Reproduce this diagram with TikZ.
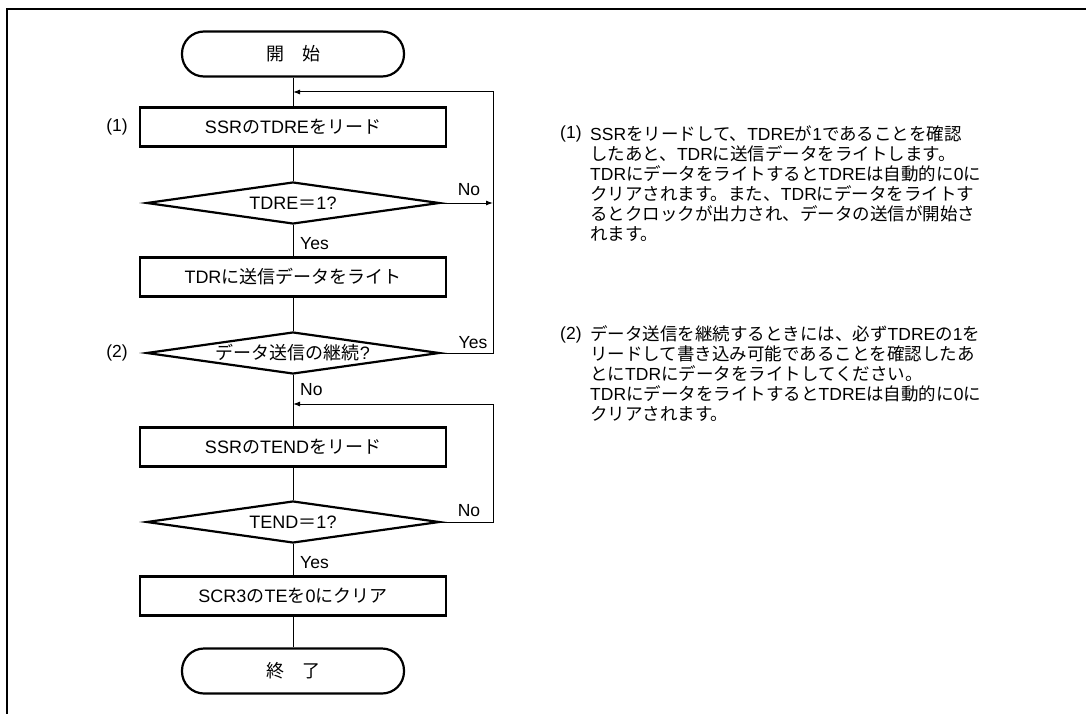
\documentclass[tikz,border=0pt]{standalone}
\usepackage{fontspec}
\setmainfont{Liberation Sans}
\newfontfamily\jpfont{Noto Sans CJK JP}
% kana, kanji and full-width forms go to the Japanese face
\newXeTeXintercharclass\jpcls
\newcount\jpc
\def\setjprange#1#2{\jpc=#1 \loop\XeTeXcharclass\jpc=\jpcls \ifnum\jpc<#2 \advance\jpc by 1 \repeat}
\setjprange{"3000}{"30FF}
\setjprange{"4E00}{"9FFF}
\setjprange{"FF01}{"FF60}
\XeTeXinterchartoks 0 \jpcls = {\jpfont}
\XeTeXinterchartoks 4095 \jpcls = {\jpfont}
\XeTeXinterchartoks \jpcls 0 = {\rmfamily}
\XeTeXinterchartoks \jpcls 4095 = {\rmfamily}
\XeTeXinterchartokenstate=1
\usetikzlibrary{shapes.geometric,arrows.meta}

\tikzset{
  term/.style={draw, line width=2.2pt, rounded corners=22pt, minimum width=222pt, minimum height=45pt},
  proc/.style={draw, line width=2.2pt, minimum width=306pt, minimum height=39pt, inner sep=0pt},
  cond/.style={draw, diamond, aspect=7, line width=2.2pt, minimum width=293pt, minimum height=42pt, inner sep=0pt},
  link/.style={line width=1pt},
  back/.style={line width=1pt, -{Latex[length=7pt, width=5pt]}},
  tag/.style={inner sep=0pt, font=\fontsize{17.5}{20}\selectfont},
  note/.style={inner sep=0pt, align=left, font=\fontsize{17.5}{20}\selectfont},
}

\begin{document}
\begin{tikzpicture}[x=1pt,y=-1pt,font=\fontsize{18}{22}\selectfont]
\useasboundingbox (0,0) rectangle (1086,714);
\draw[line width=2.5pt] (7,714) -- (7,9) -- (1086,9);

\node[term] (start) at (293,54) {開　始};
\node[proc] (rdTdre) at (293,127) {SSRのTDREをリード};
\node[cond] (dTdre) at (293,203) {TDRE＝1?};
\node[proc] (wrTdr) at (293,277) {TDRに送信データをライト};
\node[cond] (dCont) at (293,353) {データ送信の継続?};
\node[proc] (rdTend) at (293,447) {SSRのTENDをリード};
\node[cond] (dTend) at (293,522) {TEND＝1?};
\node[proc] (clrTe) at (293,596) {SCR3のTEを0にクリア};
\node[term] (stop) at (293,671) {終　了};

\coordinate (topA) at (293,92);
\coordinate (topB) at (293,404);
\coordinate (railA) at (493,92);
\coordinate (railB) at (493,404);

\draw[link] (start) -- (rdTdre) -- (dTdre) -- (wrTdr) -- (dCont) -- (rdTend) -- (dTend) -- (clrTe) -- (stop);
\draw[back] (dTdre.east) -- (dTdre.east -| railA);
\draw[back] (dCont.east) -| (railA) -- (topA);
\draw[back] (dTend.east) -| (railB) -- (topB);

\node[tag] (noA) at (469,190) {No};
\node[tag, anchor=west] (yesA) at (300,244) {Yes};
\node[tag] (yesB) at (473,343) {Yes};
\node[tag, anchor=west] (noB) at (300,390) {No};
\node[tag] (noC) at (469,511) {No};
\node[tag, anchor=west] (yesC) at (300,563) {Yes};
\node[tag] (numA) at (117,127) {(1)};
\node[tag] (numB) at (117,353) {(2)};

\node[tag, anchor=base west] (refA) at (560,139) {(1)};
\node[note, anchor=north west] (txtA) at (590,125) {SSRをリードして、TDREが1であることを確認\\したあと、TDRに送信データをライトします。\\TDRにデータをライトするとTDREは自動的に0に\\クリアされます。また、TDRにデータをライトす\\るとクロックが出力され、データの送信が開始さ\\れます。};
\node[tag, anchor=base west] (refB) at (560,339) {(2)};
\node[note, anchor=north west] (txtB) at (590,325) {データ送信を継続するときには、必ずTDREの1を\\リードして書き込み可能であることを確認したあ\\とにTDRにデータをライトしてください。\\TDRにデータをライトするとTDREは自動的に0に\\クリアされます。};
\end{tikzpicture}
\end{document}
